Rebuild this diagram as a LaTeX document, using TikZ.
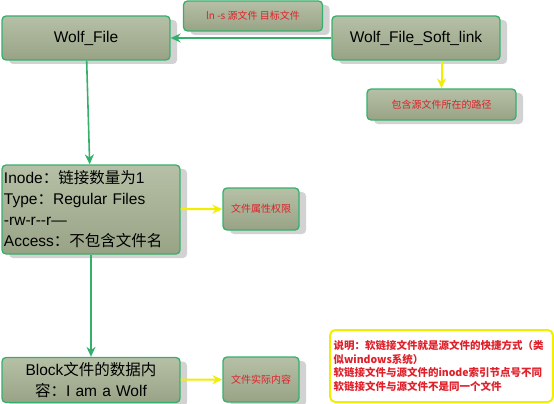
\documentclass[tikz,border=0pt]{standalone}
\usepackage{fontspec}
\setmainfont{Liberation Sans}
\newfontfamily\cjk{Noto Sans CJK SC}
\usetikzlibrary{arrows.meta, shadows}

\definecolor{boxgreen}{HTML}{35B06C}
\definecolor{boxtop}{HTML}{B6C0A6}
\definecolor{boxbottom}{HTML}{98A386}
\definecolor{linkyellow}{HTML}{F2EE00}
\definecolor{notered}{HTML}{E0202A}

\begin{document}
\begin{tikzpicture}[
            x = 1pt, y = -1pt, % pixel grid of the reference
            > = {Stealth[length=10pt, width=9pt]}, % arrow head style
            semithick % line style
        ]

        \tikzstyle{file}=[
            draw = boxgreen,
            line width = 1.3pt,
            rounded corners = 4pt,
            top color = boxtop,
            bottom color = boxbottom,
            drop shadow = {shadow xshift=7pt, shadow yshift=-4pt, fill=gray!50, opacity=0.7},
            inner sep = 2pt,
            font = \fontsize{15.5}{21}\selectfont
        ]
        \tikzstyle{tag}=[
            file,
            text = notered,
            font = \cjk\fontsize{10}{12}\selectfont
        ]
        \tikzstyle{main link}=[draw = boxgreen, line width = 1.6pt]
        \tikzstyle{side link}=[draw = linkyellow, line width = 2pt]

        \useasboundingbox (0,0) rectangle (554,404);

        \node[file, minimum width=168pt, minimum height=44pt] (wolf) at (86,38) {Wolf\_File};
        \node[file, minimum width=168pt, minimum height=44pt] (soft) at (416,38) {Wolf\_File\_Soft\_link};
        \node[tag, minimum width=139pt, minimum height=30pt] (cmd) at (253,16) {ln -s 源文件 目标文件};
        \node[tag, minimum width=149pt, minimum height=31pt] (path) at (441.5,104.5) {包含源文件所在的路径};

        \node[file, minimum width=178pt, minimum height=89pt, text width=174pt, align=left] (inode) at (91,209.5)
            {Inode{\cjk ：链接数量为}1\\Type{\cjk ：}Regular Files\\-rw-r-{}-r—\\Access{\cjk ：不包含文件名}};
        \node[tag, minimum width=76pt, minimum height=42pt] (attr) at (261,209) {文件属性权限};

        \node[file, minimum width=178pt, minimum height=45pt, text width=174pt, align=center] (block) at (91,380)
            {Block{\cjk 文件的数据内}\\{\cjk 容：}I am a Wolf};
        \node[tag, minimum width=76pt, minimum height=45pt] (content) at (261,379.5) {文件实际内容};

        \node[draw = linkyellow, line width = 2pt, rounded corners = 5pt, fill = white,
            text = notered, minimum width=222pt, minimum height=72pt, text width=216pt, align=left,
            font = \cjk\bfseries\fontsize{10.5}{13.5}\selectfont] (note) at (441.5,366)
            {说明：软链接文件就是源文件的快捷方式（类\\似windows系统）\\软链接文件与源文件的inode索引节点号不同\\软链接文件与源文件不是同一个文件};

        \path[->, main link] (soft) edge (wolf);
        \path[->, main link] (wolf) edge (inode);
        \path[->, main link] (inode) edge (block);

        \draw[->, side link] (path.north |- soft.south) -- (path.north);
        \path[->, side link] (inode) edge (attr);
        \path[->, side link] (block) edge (content);

    \end{tikzpicture}
\end{document}
